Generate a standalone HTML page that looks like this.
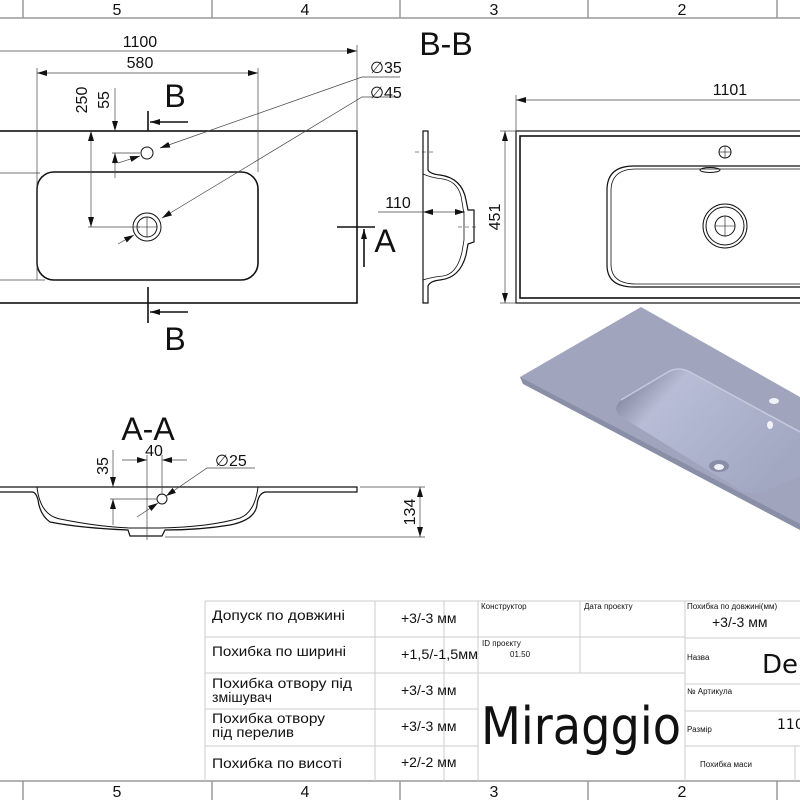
<!DOCTYPE html>
<html><head><meta charset="utf-8"><style>
html,body{margin:0;padding:0;background:#fff}
svg{display:block}
text{font-family:"Liberation Sans",sans-serif;fill:#111}
.g{font-family:"Liberation Sans Narrow","DejaVu Sans","Liberation Sans",sans-serif}
</style></head><body>
<svg width="800" height="800" viewBox="0 0 800 800" xmlns="http://www.w3.org/2000/svg">
<defs>
<marker id="ar" viewBox="0 0 10 6" refX="10" refY="3" markerWidth="10" markerHeight="6" orient="auto-start-reverse" markerUnits="userSpaceOnUse"><path d="M0,0 L10,3 L0,6 Z" fill="#111"/></marker>
<linearGradient id="gb" x1="0" y1="0" x2="1" y2="0.6"><stop offset="0" stop-color="#6a6f86"/><stop offset="0.3" stop-color="#b8bdd6"/><stop offset="1" stop-color="#a2a8c2"/></linearGradient>
</defs>
<g stroke="#999" stroke-width="1.5" fill="none">
<line x1="0" y1="18" x2="800" y2="18"/><line x1="0" y1="781" x2="800" y2="781"/>
<line x1="23" y1="0" x2="23" y2="18"/><line x1="212" y1="0" x2="212" y2="18"/><line x1="400" y1="0" x2="400" y2="18"/><line x1="588" y1="0" x2="588" y2="18"/><line x1="777" y1="0" x2="777" y2="18"/>
<line x1="23" y1="781" x2="23" y2="800"/><line x1="212" y1="781" x2="212" y2="800"/><line x1="400" y1="781" x2="400" y2="800"/><line x1="588" y1="781" x2="588" y2="800"/><line x1="777" y1="781" x2="777" y2="800"/>
</g>
<g font-size="16" text-anchor="middle">
<text x="117" y="15">5</text><text x="305" y="15">4</text><text x="494" y="15">3</text><text x="682" y="15">2</text>
<text x="117" y="797">5</text><text x="305" y="797">4</text><text x="494" y="797">3</text><text x="682" y="797">2</text>
</g>

<g stroke="#111" fill="none">
<rect x="-5" y="131" width="362" height="172" stroke-width="1.6"/>
<rect x="37" y="172" width="221" height="108" rx="17" stroke-width="1.6"/>
<circle cx="147" cy="153" r="6"/>
<circle cx="147" cy="227" r="14"/><circle cx="147" cy="227" r="10"/>
<line x1="147" y1="217" x2="147" y2="237" stroke-width="0.6"/><line x1="137" y1="227" x2="157" y2="227" stroke-width="0.6"/>
</g>
<g stroke="#444" stroke-width="0.7" fill="none">
<line x1="0" y1="51" x2="357" y2="51" marker-end="url(#ar)"/>
<line x1="357" y1="45" x2="357" y2="131"/>
<line x1="37" y1="73" x2="258" y2="73" marker-start="url(#ar)" marker-end="url(#ar)"/>
<line x1="37" y1="68" x2="37" y2="280"/><line x1="258" y1="68" x2="258" y2="172"/>
<line x1="91" y1="131" x2="91" y2="227" marker-start="url(#ar)" marker-end="url(#ar)"/>
<line x1="88" y1="227" x2="140" y2="227"/>
<line x1="115" y1="88" x2="115" y2="131" marker-end="url(#ar)"/>
<line x1="115" y1="153" x2="115" y2="178"/><line x1="115" y1="164" x2="115" y2="153" marker-end="url(#ar)"/>
<line x1="112" y1="153" x2="140" y2="153"/>
<line x1="0" y1="173" x2="40" y2="173"/><line x1="0" y1="280" x2="45" y2="280"/>
<polyline points="160,148 362,77 400,77" marker-start="url(#ar)"/>
<line x1="118" y1="163" x2="140" y2="156" marker-end="url(#ar)"/>
<polyline points="162,218 362,97 400,97" marker-start="url(#ar)"/>
<line x1="118" y1="244" x2="134" y2="235" marker-end="url(#ar)"/>
</g>
<g stroke="#111" stroke-width="1.6" fill="none">
<line x1="148" y1="111" x2="148" y2="131"/><line x1="188" y1="122" x2="150" y2="122" marker-end="url(#ar)"/>
<line x1="148" y1="287" x2="148" y2="323"/><line x1="188" y1="312" x2="150" y2="312" marker-end="url(#ar)"/>
<line x1="337" y1="227" x2="375" y2="227"/><line x1="364" y1="267" x2="364" y2="229" marker-end="url(#ar)"/>
</g>
<g font-size="16">
<text x="140" y="47" text-anchor="middle">1100</text>
<text x="140" y="68" text-anchor="middle">580</text>
<text transform="translate(87,100) rotate(-90)" text-anchor="middle">250</text>
<text transform="translate(109,100) rotate(-90)" text-anchor="middle">55</text>
<text x="370" y="73">∅35</text><text x="370" y="98">∅45</text>
</g>
<g font-size="32"><text x="175" y="107" text-anchor="middle">B</text><text x="175" y="350" text-anchor="middle">B</text><text x="385" y="252" text-anchor="middle">A</text>
<text x="446" y="55" text-anchor="middle">B-B</text><text x="148" y="440" text-anchor="middle">A-A</text></g>

<g stroke="#111" stroke-width="1.2" fill="none">
<path d="M423,131 L428,131 L428,170 Q430,174 440,175 Q462,178 466,200 L468,210 L474,210 L474,242 L468,244 L466,255 Q460,278 440,280 Q430,281 428,286 L428,303 L423,303 Z"/>
<path d="M423,174 Q432,178 443,179 Q460,182 462,202 L464,214 L464,240 L462,252 Q457,274 443,276 Q432,277 423,280" stroke-width="0.8"/>
<line x1="415" y1="152" x2="433" y2="152" stroke-width="0.5" stroke-dasharray="4,3"/>
<line x1="458" y1="227" x2="478" y2="227" stroke-width="0.5" stroke-dasharray="4,3"/>
</g>
<g stroke="#444" stroke-width="0.7" fill="none">
<line x1="378" y1="212" x2="423" y2="212"/>
<line x1="423" y1="212" x2="465" y2="212" marker-start="url(#ar)" marker-end="url(#ar)"/>
</g>
<text x="398" y="208" font-size="16" text-anchor="middle">110</text>

<g stroke="#111" fill="none">
<rect x="516" y="131" width="300" height="172" stroke-width="1.2"/>
<rect x="520" y="136" width="300" height="162" stroke-width="1.6"/>
<path d="M830,166 L634,166 Q607,166 607,190 L607,265 Q607,287 634,287 L830,287" stroke-width="1.2"/>
<path d="M830,169 L636,169 Q611,169 611,191 L611,264 Q611,284 636,284 L830,284" stroke-width="0.8"/>
<circle cx="725" cy="226" r="22"/><circle cx="725" cy="226" r="19"/><circle cx="725" cy="226" r="10"/>
<line x1="715" y1="226" x2="735" y2="226" stroke-width="0.6"/><line x1="725" y1="216" x2="725" y2="236" stroke-width="0.6"/>
<circle cx="725" cy="152" r="6"/><line x1="719" y1="152" x2="731" y2="152" stroke-width="0.6"/><line x1="725" y1="146" x2="725" y2="158" stroke-width="0.6"/>
<ellipse cx="710" cy="170" rx="10" ry="2.5"/>
</g>
<g stroke="#444" stroke-width="0.7" fill="none">
<line x1="800" y1="100" x2="516" y2="100" marker-end="url(#ar)"/><line x1="516" y1="95" x2="516" y2="131"/>
<line x1="505" y1="131" x2="505" y2="303" marker-start="url(#ar)" marker-end="url(#ar)"/>
<line x1="500" y1="131" x2="516" y2="131"/><line x1="500" y1="303" x2="516" y2="303"/>
</g>
<text x="730" y="95" font-size="16" text-anchor="middle">1101</text>
<text transform="translate(500,217) rotate(-90)" font-size="16" text-anchor="middle">451</text>

<!-- 3D render -->
<path d="M520,377 L641,307 L800,397 L800,528 L523,383 Z" fill="#a0a5bd"/>
<path d="M520,377 L523,384 L800,530 L800,524 Z" fill="#8a8fa8"/>
<path d="M800,432 L690,372 Q678,366 668,372 L621,400 Q612,408 620,416 L740,490 Q752,496 768,490 L800,476 Z" fill="url(#gb)"/>
<path d="M621,400 L668,372 Q678,366 690,372 L800,432" fill="none" stroke="#c5cadf" stroke-width="1.5"/>
<ellipse cx="719" cy="466" rx="10" ry="6" fill="#888ea6"/><ellipse cx="719" cy="467" rx="5" ry="3" fill="#f0f2f8"/>
<ellipse cx="774" cy="401" rx="5" ry="3" fill="#f0f2f8"/>
<ellipse cx="770" cy="425" rx="3" ry="4" fill="#f0f2f8"/>

<g stroke="#111" fill="none">
<path d="M0,487 L357,487 L357,492 L265,492 Q258,494 257,505 Q255,520 230,525 Q200,530 165,530 L162,536 L130,536 L128,530 Q80,528 50,522 Q40,515 38,500 Q36,492 32,492 L0,492" stroke-width="1.2"/>
<path d="M37,487 Q40,515 60,519 Q100,527 130,528 L160,528 Q210,527 240,518 Q255,512 258,487" stroke-width="1"/>
<circle cx="162" cy="499" r="5"/>
</g>
<g stroke="#444" stroke-width="0.7" fill="none">
<line x1="113" y1="450" x2="113" y2="487" marker-end="url(#ar)"/>
<line x1="113" y1="525" x2="113" y2="499" marker-end="url(#ar)"/>
<line x1="110" y1="499" x2="157" y2="499"/>
<line x1="122" y1="460" x2="147" y2="460" marker-end="url(#ar)"/>
<line x1="187" y1="460" x2="162" y2="460" marker-end="url(#ar)"/>
<line x1="147" y1="455" x2="147" y2="540"/><line x1="162" y1="455" x2="162" y2="495"/>
<polyline points="166,496 207,468 255,468" marker-start="url(#ar)"/>
<line x1="137" y1="517" x2="158" y2="503" marker-end="url(#ar)"/>
<line x1="420" y1="487" x2="420" y2="537" marker-start="url(#ar)" marker-end="url(#ar)"/>
<line x1="360" y1="487" x2="425" y2="487"/><line x1="165" y1="537" x2="425" y2="537"/>
</g>
<g font-size="16">
<text transform="translate(108,466) rotate(-90)" text-anchor="middle">35</text>
<text x="154" y="456" text-anchor="middle">40</text>
<text x="215" y="466">∅25</text>
<text transform="translate(415,512) rotate(-90)" text-anchor="middle">134</text>
</g>

<g stroke="#ccc" stroke-width="1" fill="none">
<line x1="205" y1="601" x2="800" y2="601"/>
<line x1="205" y1="637" x2="478" y2="637"/><line x1="205" y1="673" x2="478" y2="673"/><line x1="205" y1="709" x2="478" y2="709"/><line x1="205" y1="746" x2="478" y2="746"/>
<line x1="478" y1="637" x2="685" y2="637"/><line x1="478" y1="673" x2="685" y2="673"/>
<line x1="685" y1="638" x2="800" y2="638"/><line x1="685" y1="684" x2="800" y2="684"/><line x1="685" y1="711" x2="800" y2="711"/><line x1="685" y1="746" x2="800" y2="746"/>
<line x1="205" y1="601" x2="205" y2="781"/><line x1="375" y1="601" x2="375" y2="781"/><line x1="444" y1="601" x2="444" y2="781"/>
<line x1="478" y1="601" x2="478" y2="781"/><line x1="580" y1="601" x2="580" y2="673"/><line x1="685" y1="601" x2="685" y2="781"/><line x1="795" y1="746" x2="795" y2="781"/>
</g>
<g class="g" font-size="14">
<text x="212" y="620" textLength="133" lengthAdjust="spacingAndGlyphs">Допуск по довжині</text>
<text x="212" y="656" textLength="134" lengthAdjust="spacingAndGlyphs">Похибка по ширині</text>
<text x="212" y="688" textLength="140" lengthAdjust="spacingAndGlyphs">Похибка отвору під</text><text x="212" y="702" textLength="60" lengthAdjust="spacingAndGlyphs">змішувач</text>
<text x="212" y="723" textLength="113" lengthAdjust="spacingAndGlyphs">Похибка отвору</text><text x="212" y="737" textLength="82" lengthAdjust="spacingAndGlyphs">під перелив</text>
<text x="212" y="768" textLength="130" lengthAdjust="spacingAndGlyphs">Похибка по висоті</text>
<text x="401" y="623">+3/-3 мм</text>
<text x="401" y="659" textLength="77" lengthAdjust="spacingAndGlyphs">+1,5/-1,5мм</text>
<text x="401" y="695">+3/-3 мм</text>
<text x="401" y="731">+3/-3 мм</text>
<text x="401" y="767">+2/-2 мм</text>
<text x="712" y="627">+3/-3 мм</text>
</g>
<g class="g" font-size="8">
<text x="481" y="609">Конструктор</text><text x="584" y="609">Дата проєкту</text>
<text x="687" y="609">Похибка по довжині(мм)</text>
<text x="482" y="646">ID проєкту</text><text x="510" y="657">01.50</text>
<text x="687" y="660">Назва</text><text x="687" y="694">№ Артикула</text><text x="687" y="732">Размір</text>
<text x="700" y="767">Похибка маси</text>
</g>
<text class="g" x="762" y="673" font-size="26">Del</text>
<text class="g" x="777" y="729" font-size="14">110</text>
<text class="g" x="481" y="744" font-size="52" textLength="200" lengthAdjust="spacingAndGlyphs">Miraggio</text>
</svg>
</body></html>
